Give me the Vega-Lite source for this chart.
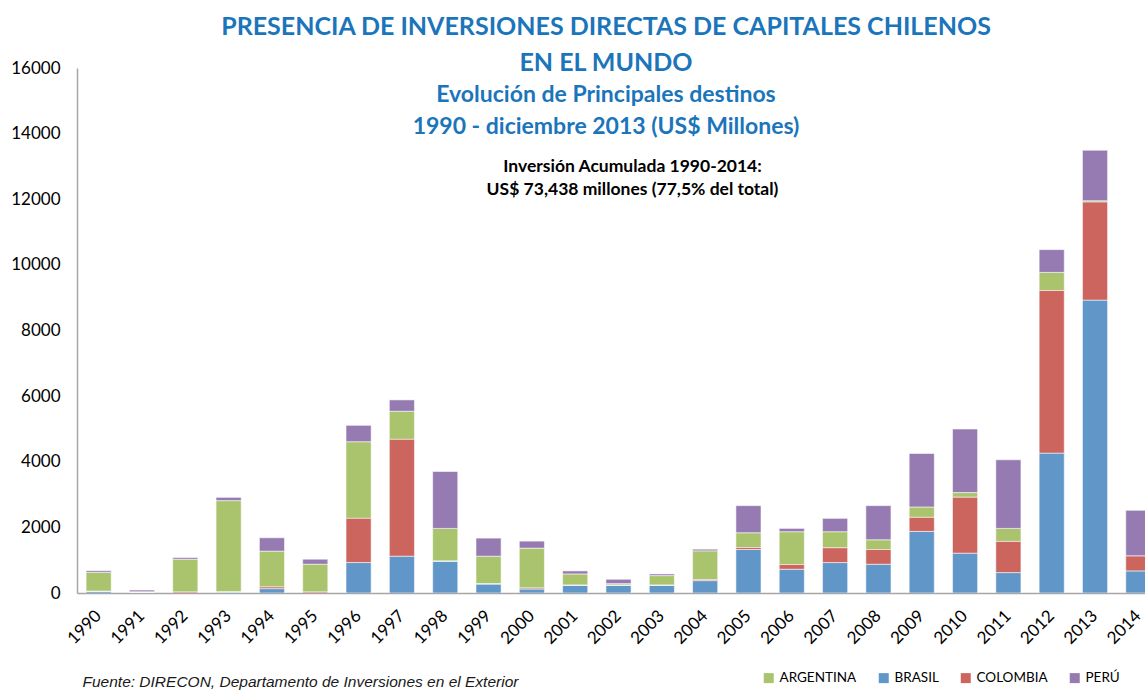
{
  "$schema": "https://vega.github.io/schema/vega-lite/v6.json",
  "width": 1068,
  "height": 525,
  "autosize": "none",
  "padding": {"left": 77, "top": 68, "right": 0, "bottom": 98},
  "background": "white",
  "config": {"view": {"stroke": null}, "font": "Lato"},
  "title": {
    "text": ["PRESENCIA DE INVERSIONES DIRECTAS DE CAPITALES CHILENOS", "EN EL MUNDO"],
    "subtitle": ["Evolución de Principales destinos", "1990 - diciembre 2013 (US$ Millones)"],
    "anchor": "middle",
    "frame": "group",
    "color": "#1b75bb",
    "subtitleColor": "#1b75bb",
    "font": "Lato",
    "subtitleFont": "Lato",
    "fontSize": 25,
    "fontWeight": "bold",
    "lineHeight": 36,
    "subtitleFontSize": 23,
    "subtitleFontWeight": "bold",
    "subtitleLineHeight": 32,
    "subtitlePadding": 8,
    "offset": -80,
    "dx": -5
  },
  "layer": [
    {
      "data": {
        "values": [
          {"anio": "1990", "BRASIL": 50, "COLOMBIA": 0, "ARGENTINA": 580, "PERÚ": 50},
          {"anio": "1991", "BRASIL": 10, "COLOMBIA": 0, "ARGENTINA": 30, "PERÚ": 50},
          {"anio": "1992", "BRASIL": 0, "COLOMBIA": 30, "ARGENTINA": 1000, "PERÚ": 50},
          {"anio": "1993", "BRASIL": 30, "COLOMBIA": 0, "ARGENTINA": 2785, "PERÚ": 100},
          {"anio": "1994", "BRASIL": 133, "COLOMBIA": 51, "ARGENTINA": 1091, "PERÚ": 408},
          {"anio": "1995", "BRASIL": 0, "COLOMBIA": 30, "ARGENTINA": 847, "PERÚ": 153},
          {"anio": "1996", "BRASIL": 928, "COLOMBIA": 1347, "ARGENTINA": 2335, "PERÚ": 500},
          {"anio": "1997", "BRASIL": 1122, "COLOMBIA": 3560, "ARGENTINA": 857, "PERÚ": 346},
          {"anio": "1998", "BRASIL": 969, "COLOMBIA": 0, "ARGENTINA": 1000, "PERÚ": 1734},
          {"anio": "1999", "BRASIL": 275, "COLOMBIA": 0, "ARGENTINA": 847, "PERÚ": 551},
          {"anio": "2000", "BRASIL": 122, "COLOMBIA": 30, "ARGENTINA": 1215, "PERÚ": 214},
          {"anio": "2001", "BRASIL": 235, "COLOMBIA": 0, "ARGENTINA": 346, "PERÚ": 92},
          {"anio": "2002", "BRASIL": 235, "COLOMBIA": 0, "ARGENTINA": 51, "PERÚ": 132},
          {"anio": "2003", "BRASIL": 235, "COLOMBIA": 0, "ARGENTINA": 295, "PERÚ": 51},
          {"anio": "2004", "BRASIL": 377, "COLOMBIA": 30, "ARGENTINA": 878, "PERÚ": 51},
          {"anio": "2005", "BRASIL": 1326, "COLOMBIA": 61, "ARGENTINA": 449, "PERÚ": 826},
          {"anio": "2006", "BRASIL": 724, "COLOMBIA": 143, "ARGENTINA": 1000, "PERÚ": 102},
          {"anio": "2007", "BRASIL": 928, "COLOMBIA": 449, "ARGENTINA": 490, "PERÚ": 408},
          {"anio": "2008", "BRASIL": 877, "COLOMBIA": 449, "ARGENTINA": 296, "PERÚ": 1040},
          {"anio": "2009", "BRASIL": 1877, "COLOMBIA": 428, "ARGENTINA": 316, "PERÚ": 1632},
          {"anio": "2010", "BRASIL": 1214, "COLOMBIA": 1703, "ARGENTINA": 143, "PERÚ": 1938},
          {"anio": "2011", "BRASIL": 622, "COLOMBIA": 949, "ARGENTINA": 398, "PERÚ": 2091},
          {"anio": "2012", "BRASIL": 4263, "COLOMBIA": 4957, "ARGENTINA": 551, "PERÚ": 694},
          {"anio": "2013", "BRASIL": 8926, "COLOMBIA": 2987, "ARGENTINA": 42, "PERÚ": 1540},
          {"anio": "2014", "BRASIL": 673, "COLOMBIA": 459, "ARGENTINA": 0, "PERÚ": 1387}
        ]
      },
      "transform": [
        {"fold": ["ARGENTINA", "BRASIL", "COLOMBIA", "PERÚ"], "as": ["pais", "valor"]},
        {"calculate": "indexof(['BRASIL','COLOMBIA','ARGENTINA','PERÚ'], datum.pais)", "as": "orden"}
      ],
      "mark": {"type": "bar", "clip": true, "stroke": "#ffffff", "strokeWidth": 1, "strokeOpacity": 0.55},
      "encoding": {
        "x": {
          "field": "anio",
          "type": "ordinal",
          "scale": {"range": [0, 1083], "paddingInner": 0.42, "paddingOuter": 0.21},
          "axis": {
            "labelAngle": -45,
            "labelAlign": "right",
            "labelBaseline": "middle",
            "labelFontSize": 17,
            "labelColor": "#000000",
            "labelPadding": 20,
            "labelDx": 4,
            "ticks": false,
            "domainColor": "#a6a6a6",
            "domainWidth": 1.5,
            "title": "Fuente: DIRECON, Departamento de Inversiones en el Exterior",
            "titleFont": "Liberation Sans",
            "titleFontStyle": "italic",
            "titleFontWeight": "normal",
            "titleFontSize": 15.5,
            "titleColor": "#1a1a1a",
            "titleAnchor": "start",
            "titleAlign": "left",
            "titleBaseline": "middle",
            "titleX": 5,
            "titleY": 88
          }
        },
        "y": {
          "field": "valor",
          "type": "quantitative",
          "stack": "zero",
          "scale": {"domain": [0, 16000], "nice": false},
          "axis": {
            "values": [0, 2000, 4000, 6000, 8000, 10000, 12000, 14000, 16000],
            "format": "d",
            "grid": false,
            "ticks": false,
            "domainColor": "#a6a6a6",
            "domainWidth": 1.5,
            "labelFontSize": 17,
            "labelColor": "#000000",
            "labelPadding": 17,
            "title": null
          }
        },
        "color": {
          "field": "pais",
          "type": "nominal",
          "scale": {
            "domain": ["ARGENTINA", "BRASIL", "COLOMBIA", "PERÚ"],
            "range": ["#a9c46c", "#6196c9", "#cc655d", "#957bb2"]
          },
          "legend": {
            "orient": "none",
            "legendX": 685,
            "legendY": 603,
            "direction": "horizontal",
            "title": null,
            "symbolType": "square",
            "symbolSize": 100,
            "symbolStrokeWidth": 0,
            "labelFontSize": 13.5,
            "labelFont": "Lato",
            "labelColor": "#000000",
            "columnPadding": 20
          }
        },
        "order": {"field": "orden", "type": "quantitative"}
      }
    },
    {
      "data": {"values": [{"nota": "Inversión Acumulada 1990-2014:\nUS$ 73,438 millones (77,5% del total)"}]},
      "mark": {
        "type": "text",
        "lineBreak": "\n",
        "fontWeight": "bold",
        "fontSize": 17.5,
        "lineHeight": 23,
        "align": "center",
        "baseline": "top",
        "color": "#000000",
        "dx": 14
      },
      "encoding": {
        "x": {"datum": "2002", "type": "ordinal"},
        "y": {"datum": 13270, "type": "quantitative"},
        "text": {"field": "nota", "type": "nominal"}
      }
    }
  ]
}
